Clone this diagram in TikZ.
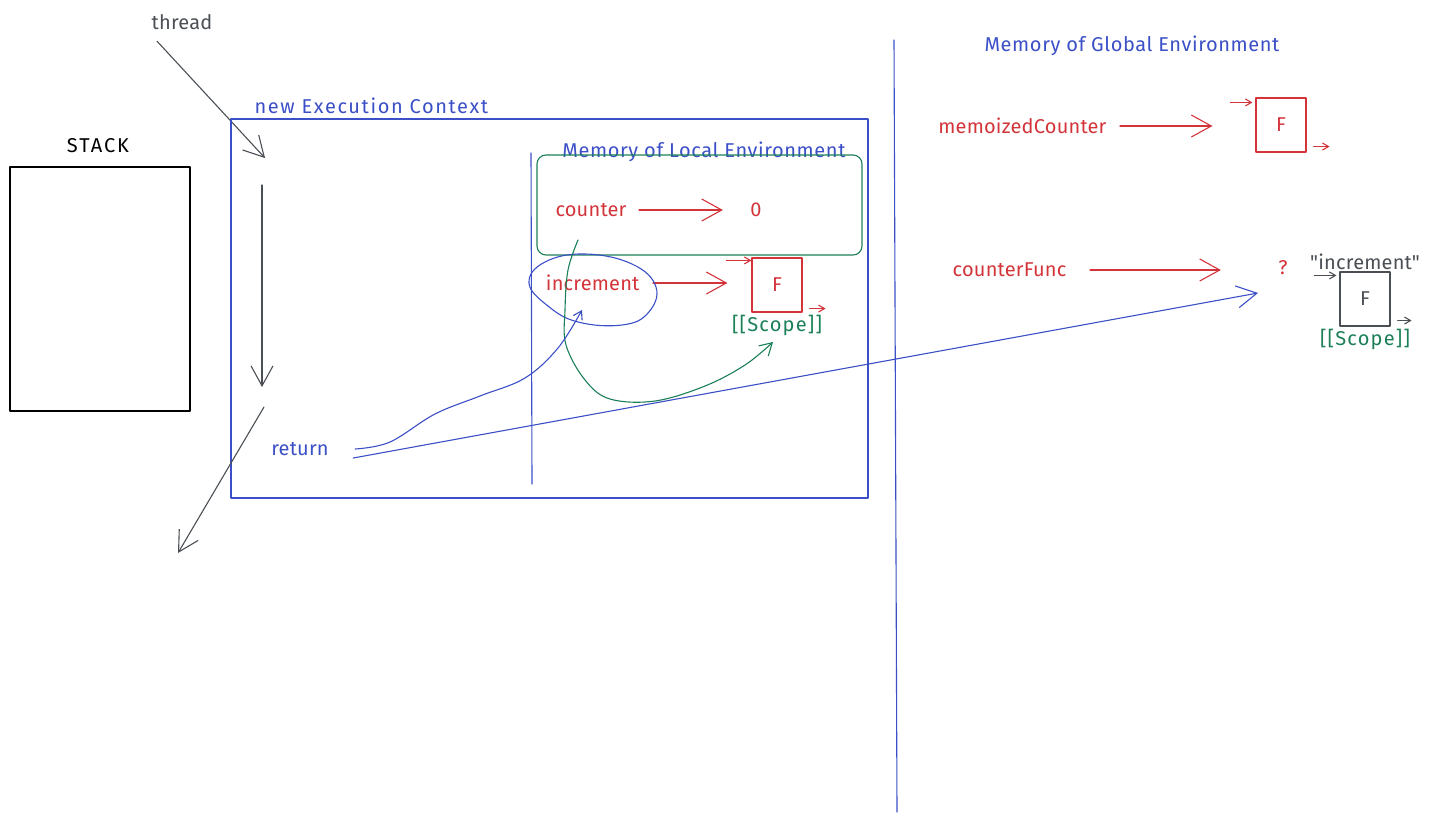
\documentclass[tikz,border=0pt]{standalone}
\usepackage{fontspec}
\setmainfont{Fira Sans}
\usetikzlibrary{arrows.meta,calc,positioning}
\definecolor{ctxblue}{HTML}{3B4FC6}
\definecolor{namered}{HTML}{D3343A}
\definecolor{scopegreen}{HTML}{1B7F57}
\definecolor{threadgray}{HTML}{4A4F55}

\begin{document}
\begin{tikzpicture}[x=1pt,y=-1pt,line cap=round,line join=round,line width=1.1pt,
  hand/.style={font=\fontsize{20}{23}\selectfont\addfontfeatures{LetterSpace=1},inner sep=2pt},
  bigtip/.style={-{Straight Barb[length=20pt,width=22pt]}},
  smalltip/.style={-{Straight Barb[length=6pt,width=7pt]}},
  scopetext/.style={font=\fontsize{20}{23}\selectfont\addfontfeatures{LetterSpace=6},
    text=scopegreen,inner sep=2pt},
  fbox/.style={draw,minimum width=50pt,minimum height=54pt,inner sep=0pt,
    font=\fontsize{20}{23}\selectfont}]
  \useasboundingbox (0,0) rectangle (1429,822);

  % Thread of execution and the call stack.
  \node[hand,text=threadgray] (threadlbl) at (182,22) {thread};
  \coordinate (threadin) at (265,158);
  \draw[threadgray,bigtip] ([xshift=-25pt,yshift=-9pt]threadlbl.south) -- (threadin);
  \node[hand,font=\fontsize{20}{23}\selectfont\addfontfeatures{LetterSpace=10}] (stacklbl) at (98,146) {STACK};
  \node[draw=black,minimum width=180pt,minimum height=244pt] (stack) at (100,289) {};

  % Execution context of the call.
  \node[draw=ctxblue,minimum width=637pt,minimum height=379pt,inner sep=0pt]
    (exec) at (549.5,308.5) {};
  \node[hand,text=ctxblue,anchor=west,font=\fontsize{20}{23}\selectfont\addfontfeatures{LetterSpace=8}]
    (execlbl) at (252,106) {new Execution Context};
  \coordinate (flowtop) at (262,185);
  \coordinate (flowbot) at (262,387);
  \coordinate (flowout) at (264,407);
  \coordinate (flowend) at (178,553);
  \draw[threadgray,bigtip] (flowtop) -- (flowbot);
  \draw[threadgray,bigtip] (flowout) -- (flowend);
  \draw[ctxblue] (531,153) -- (532,484);

  % Local memory.
  \node[hand,text=ctxblue,font=\fontsize{20}{23}\selectfont\addfontfeatures{LetterSpace=3}]
    (locallbl) at (704,152) {Memory of Local Environment};
  \node[draw=scopegreen,rounded corners=9pt,minimum width=325pt,minimum height=100pt]
    (localbox) at (699.5,205) {};
  \node[hand,text=namered,anchor=east] (counter) at (629,210) {counter};
  \node[hand,text=namered] (zero) at (756,210) {0};
  \draw[namered,bigtip] ([xshift=10pt]counter.east) -- ([xshift=-25pt]zero.west);
  \node[hand,text=namered,anchor=east] (incr) at (642,283) {increment};
  \node[fbox,draw=namered,text=namered] (localfn) at (777,285) {F};
  \draw[namered,bigtip] ([xshift=11pt]incr.east) -- ([xshift=-24pt,yshift=2pt]localfn.west);
  \draw[namered,smalltip] ([xshift=-25pt,yshift=-3pt]localfn.north west) -- ([yshift=-3pt]localfn.north west);
  \draw[namered,smalltip] ([xshift=7pt,yshift=4pt]localfn.south east) -- ([xshift=23pt,yshift=4pt]localfn.south east);
  \node[scopetext,below=0pt of localfn] (localscope) {[[Scope]]};

  % Closure over the local memory.
  \draw[ctxblue] plot[smooth cycle,tension=0.7] coordinates
    {(545,262) (585,254) (632,264) (656,287) (648,313) (622,325) (578,322) (548,306) (529,283)};
  \coordinate (scopein) at (773,342);
  \draw[scopegreen,-{Straight Barb[length=12pt,width=14pt]}] plot[smooth,tension=0.6] coordinates
    {(578,240) (568,270) (565,310) (566,345) (585,380) (610,399) (655,401) (705,386) (745,365) (scopein)};

  \node[hand,text=ctxblue] (ret) at (300,449) {return};
  \coordinate (closurein) at (582,310);
  \coordinate (globalin) at (1258,293);
  \draw[ctxblue,-{Straight Barb[length=8pt,width=10pt]}] plot[smooth,tension=0.6] coordinates
    {([xshift=24pt]ret.east) (390,442) (435,414) (480,396) (525,378) (558,348) (closurein)};
  \draw[ctxblue,bigtip] ([xshift=22pt,yshift=-9pt]ret.east) -- (globalin);

  % Global memory.
  \draw[ctxblue] (894,40) -- (897,812);
  \node[hand,text=ctxblue,font=\fontsize{20}{23}\selectfont\addfontfeatures{LetterSpace=3}]
    (globallbl) at (1132,46) {Memory of Global Environment};
  \node[hand,text=namered,anchor=east] (memo) at (1109,126) {memoizedCounter};
  \node[fbox,draw=namered,text=namered] (globalfn) at (1281,125) {F};
  \draw[namered,bigtip] ([xshift=11pt]memo.east) -- ([xshift=-43pt,yshift=-1pt]globalfn.west);
  \draw[namered,smalltip] ([xshift=-25pt,yshift=-5pt]globalfn.north west) -- ([xshift=-3pt,yshift=-5pt]globalfn.north west);
  \draw[namered,smalltip] ([xshift=7pt,yshift=6pt]globalfn.south east) -- ([xshift=23pt,yshift=6pt]globalfn.south east);

  \node[hand,text=namered,anchor=east] (cfunc) at (1069,270) {counterFunc};
  \node[hand,text=namered] (qmark) at (1283,268) {?};
  \draw[namered,bigtip] ([xshift=21pt]cfunc.east) -- ([xshift=-55pt,yshift=-2pt]qmark.west);

  \node[fbox,draw=threadgray,text=threadgray] (retfn) at (1365,299) {F};
  \node[hand,text=threadgray,above=-1pt of retfn,font=\fontsize{20}{23}\selectfont\addfontfeatures{Ligatures=TeXOff,LetterSpace=1}]
    (retname) {"increment"};
  \draw[threadgray,smalltip] ([xshift=-25pt,yshift=-4pt]retfn.north west) -- ([xshift=-3pt,yshift=-4pt]retfn.north west);
  \draw[threadgray,smalltip] ([xshift=7pt,yshift=6pt]retfn.south east) -- ([xshift=21pt,yshift=6pt]retfn.south east);
  \node[scopetext,below=0pt of retfn] (retscope) {[[Scope]]};
\end{tikzpicture}
\end{document}
